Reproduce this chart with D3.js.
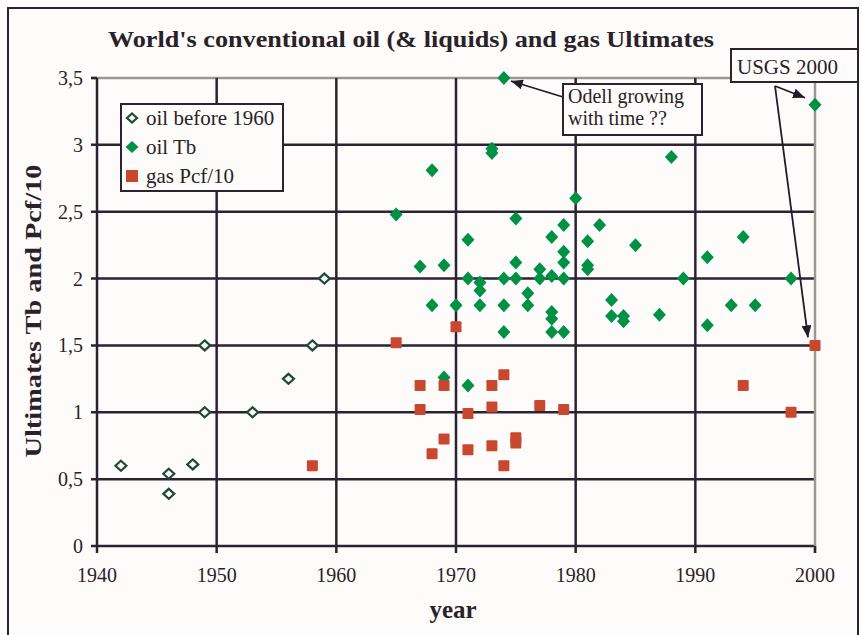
<!DOCTYPE html>
<html><head><meta charset="utf-8">
<script src="https://cdn.jsdelivr.net/npm/d3@7/dist/d3.min.js"></script>
<style>
html,body{margin:0;padding:0;background:#fdfcfa;}
svg{display:block;}
text{font-family:"Liberation Serif","Times New Roman",serif;fill:#2a2228;}
</style></head>
<body>
<svg id="chart" width="862" height="635"></svg>
<script>
// ---- data ----
const xTicks = [1940,1950,1960,1970,1980,1990,2000];
const yTicks = [0,0.5,1,1.5,2,2.5,3,3.5];
const yTickLabels = ["0","0,5","1","1,5","2","2,5","3","3,5"];

const oldYears = [1942,1946,1946,1948,1949,1949,1953,1956,1958,1959];
const oldValues = [0.60,0.54,0.39,0.61,1.00,1.50,1.00,1.25,1.50,2.00];

const oilYears = [1965,1967,1968,1968,1969,1969,1970,1971,1971,1971,1972,1972,1972,1973,1973,
  1974,1974,1974,1974,1975,1975,1975,1976,1976,1977,1977,1978,1978,1978,1978,1978,
  1979,1979,1979,1979,1979,1980,1981,1981,1981,1982,1983,1983,1984,1984,1985,1987,1988,
  1989,1991,1991,1993,1994,1995,1998,2000];
const oilValues = [2.48,2.09,2.81,1.80,2.10,1.26,1.80,2.29,2.00,1.20,1.97,1.91,1.80,2.97,2.94,
  3.50,2.00,1.80,1.60,2.45,2.12,2.00,1.89,1.80,2.07,2.00,2.31,2.02,1.75,1.70,1.60,
  2.40,2.20,2.12,2.00,1.60,2.60,2.28,2.10,2.07,2.40,1.84,1.72,1.72,1.68,2.25,1.73,2.91,
  2.00,2.16,1.65,1.80,2.31,1.80,2.00,3.30];

const gasYears = [1958,1965,1967,1967,1968,1969,1969,1970,1971,1971,1973,1973,1973,1974,1974,1975,1975,1977,1979,1994,1998,2000];
const gasValues = [0.60,1.52,1.20,1.02,0.69,1.20,0.80,1.64,0.99,0.72,1.20,1.04,0.75,1.28,0.60,0.81,0.77,1.05,1.02,1.20,1.00,1.50];

const legendLabels = ["oil before 1960","oil Tb","gas Pcf/10"];
const titleText = "World's conventional oil (& liquids) and gas Ultimates";
const yLabel = "Ultimates Tb and Pcf/10";
const xLabel = "year";
const odellText = ["Odell growing","with time ??"];
const usgsText = "USGS 2000";

// ---- drawing ----
const svg = d3.select("#chart");
const dark = "#2b2330", grey = "#9c9792";
const green = "#009146", red = "#c9472f", hollow = "#1f4a36";

const x = d3.scaleLinear().domain([1940,2000]).range([97,815]);
const y = d3.scaleLinear().domain([0,3.5]).range([546,78]);

svg.append("rect").attr("width",862).attr("height",635).attr("fill","#fdfcfa");
// outer frame
svg.append("path").attr("d","M8,640 L8,8 L858,8 L858,640").attr("fill","none").attr("stroke",dark).attr("stroke-width",2);

// title
svg.append("text").attr("x",411).attr("y",47).attr("text-anchor","middle")
  .attr("font-size",23).attr("font-weight","bold").attr("textLength",606).attr("lengthAdjust","spacingAndGlyphs")
  .text(titleText);

const g = svg.append("g");
// horizontal grid
g.selectAll("line.h").data(yTicks).join("line")
  .attr("x1",x(1940)-6).attr("x2",x(2000)).attr("y1",d=>y(d)).attr("y2",d=>y(d))
  .attr("stroke",d=>d===3.5?grey:dark).attr("stroke-width",2.5);
g.append("line").attr("x1",x(1940)-6).attr("x2",x(1940)).attr("y1",y(3.5)).attr("y2",y(3.5)).attr("stroke",dark).attr("stroke-width",2.5);
// vertical grid
g.selectAll("line.v").data(xTicks).join("line")
  .attr("x1",d=>x(d)).attr("x2",d=>x(d)).attr("y1",y(3.5)).attr("y2",y(0)+7)
  .attr("stroke",d=>d===2000?grey:dark).attr("stroke-width",2.5);
g.append("line").attr("x1",x(2000)).attr("x2",x(2000)).attr("y1",y(0)).attr("y2",y(0)+7).attr("stroke",dark).attr("stroke-width",2.5);

// axes labels
g.selectAll("text.yt").data(yTicks).join("text")
  .attr("x",83).attr("y",d=>y(d)+7).attr("text-anchor","end").attr("font-size",20)
  .text((d,i)=>yTickLabels[i]);
g.selectAll("text.xt").data(xTicks).join("text")
  .attr("x",d=>x(d)).attr("y",582).attr("text-anchor","middle").attr("font-size",20)
  .text(d=>d);
svg.append("text").attr("x",453).attr("y",618).attr("text-anchor","middle").attr("font-size",25).attr("font-weight","bold").text(xLabel);
svg.append("text").attr("transform","translate(41,311) rotate(-90)").attr("text-anchor","middle")
  .attr("font-size",23).attr("font-weight","bold").attr("textLength",293).attr("lengthAdjust","spacingAndGlyphs").text(yLabel);

// markers
const diamond = (cx,cy,w,h)=>`M${cx},${cy-h} L${cx+w},${cy} L${cx},${cy+h} L${cx-w},${cy} Z`;
const oldData = oldYears.map((d,i)=>[d,oldValues[i]]);
const oilData = oilYears.map((d,i)=>[d,oilValues[i]]);
const gasData = gasYears.map((d,i)=>[d,gasValues[i]]);

svg.append("g").selectAll("path").data(oldData).join("path")
  .attr("d",d=>diamond(x(d[0]),y(d[1]),5.5,5)).attr("fill","#fdfcfa").attr("stroke",hollow).attr("stroke-width",2.2);
svg.append("g").selectAll("path").data(oilData).join("path")
  .attr("d",d=>diamond(x(d[0]),y(d[1]),6.5,7)).attr("fill",green);
svg.append("g").selectAll("rect").data(gasData).join("rect")
  .attr("x",d=>x(d[0])-5.5).attr("y",d=>y(d[1])-5.5).attr("width",11).attr("height",11).attr("rx",1)
  .attr("fill",red);

// legend
const lg = svg.append("g");
lg.append("rect").attr("x",121).attr("y",104).attr("width",162).attr("height",87).attr("fill","#fdfcfa").attr("stroke",dark).attr("stroke-width",2);
const ly = [118,147,176];
lg.append("path").attr("d",diamond(132,ly[0],5,4.5)).attr("fill","#fdfcfa").attr("stroke",hollow).attr("stroke-width",2.2);
lg.append("path").attr("d",diamond(132,ly[1],6.5,6)).attr("fill",green);
lg.append("rect").attr("x",126).attr("y",ly[2]-6).attr("width",12).attr("height",12).attr("fill",red);
lg.selectAll("text").data(legendLabels).join("text")
  .attr("x",146).attr("y",(d,i)=>ly[i]+7).attr("font-size",21).text(d=>d);

// arrows
const defs = svg.append("defs");
defs.append("marker").attr("id","ah").attr("viewBox","0 0 12 10").attr("refX",12).attr("refY",5)
  .attr("markerWidth",12).attr("markerHeight",10).attr("markerUnits","userSpaceOnUse").attr("orient","auto")
  .append("path").attr("d","M0,0 L12,5 L0,10 Z").attr("fill","#231c28");
const arrow = (x1,y1,x2,y2)=>svg.append("line").attr("x1",x1).attr("y1",y1).attr("x2",x2).attr("y2",y2)
  .attr("stroke","#231c28").attr("stroke-width",1.8).attr("marker-end","url(#ah)");
arrow(563,97,x(1974)+7,y(3.5)+3);
arrow(775,86,x(2000)-10,y(3.3)-7);
arrow(775,86,x(2000)-7,y(1.5)-8);

// Odell box
svg.append("rect").attr("x",563).attr("y",84).attr("width",139).attr("height",51).attr("fill","#fdfcfa").attr("stroke",dark).attr("stroke-width",2);
svg.selectAll("text.od").data(odellText).join("text").attr("x",568).attr("y",(d,i)=>103+i*22).attr("font-size",20).text(d=>d);
// USGS box
svg.append("rect").attr("x",731).attr("y",49).attr("width",127).attr("height",33).attr("fill","#fdfcfa").attr("stroke",dark).attr("stroke-width",2);
svg.append("text").attr("x",737).attr("y",74).attr("font-size",21).text(usgsText);
</script>
</body></html>
